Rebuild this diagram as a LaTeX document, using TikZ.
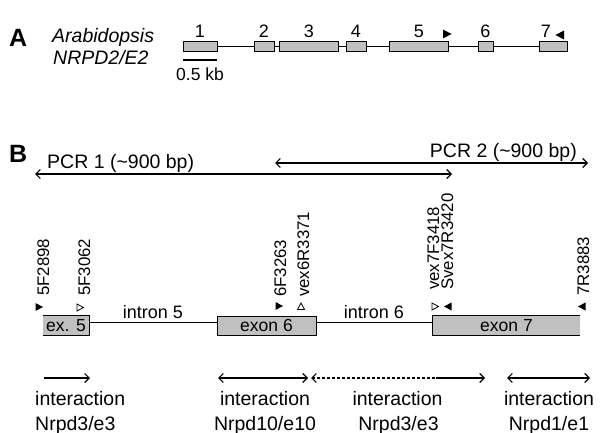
\documentclass[tikz,border=0pt]{standalone}
\usepackage{fontspec}
\setmainfont{Liberation Sans}
\usetikzlibrary{arrows.meta,calc}
\definecolor{exgray}{HTML}{C0C0C0}
\begin{document}
\begin{tikzpicture}[x=1pt,y=-1pt,
  exA/.style={draw, fill=exgray, line width=0.9pt, inner sep=0pt, minimum height=10pt},
  exBfill/.style={fill=exgray, inner sep=0pt, minimum height=19pt, font=\fontsize{17.5pt}{20pt}\selectfont},
  exB/.style={exBfill, draw, line width=0.9pt},
  numlab/.style={anchor=base, inner sep=0pt, font=\fontsize{18pt}{20pt}\selectfont},
  biglab/.style={inner sep=0pt, font=\fontsize{19.5pt}{22pt}\selectfont},
  primer/.style={rotate=90, anchor=base west, inner sep=0pt, font=\fontsize{16.8pt}{19pt}\selectfont},
  panel/.style={anchor=base west, inner sep=0pt, font=\fontsize{25pt}{28pt}\selectfont\bfseries},
  gline/.style={line width=0.9pt},
  arr/.style={line width=1.1pt, -{Straight Barb[length=4.5pt,width=9pt]}},
  dbl/.style={line width=1.1pt, {Straight Barb[length=4.5pt,width=9pt]}-{Straight Barb[length=4.5pt,width=9pt]}},
  larr/.style={line width=1.1pt, {Straight Barb[length=4.5pt,width=9pt]}-}
]
\useasboundingbox (0,0) rectangle (600,433);

% ---------- Panel A ----------
\node[panel] (A) at (9,47) {A};
\node[biglab, anchor=base west] (arab) at (52,43) {\itshape Arabidopsis};
\node[biglab, anchor=base west] (nrpd) at (53,65) {\itshape NRPD2/E2};

\node[exA, minimum width=34pt] (a1) at (200,46) {};
\node[exA, minimum width=20pt] (a2) at (264,46) {};
\node[exA, minimum width=59pt] (a3) at (308.5,46) {};
\node[exA, minimum width=20pt] (a4) at (356,46) {};
\node[exA, minimum width=59pt] (a5) at (418.5,46) {};
\node[exA, minimum width=15pt] (a6) at (485.5,46) {};
\node[exA, minimum width=28pt] (a7) at (553,46) {};
\draw[gline] (a1.east) -- (a2.west);
\draw[gline] (a2.east) -- (a3.west);
\draw[gline] (a3.east) -- (a4.west);
\draw[gline] (a4.east) -- (a5.west);
\draw[gline] (a5.east) -- (a6.west);
\draw[gline] (a6.east) -- (a7.west);

\node[numlab] (n1) at (200,38) {1};
\node[numlab] (n2) at (264,38) {2};
\node[numlab] (n3) at (309,38) {3};
\node[numlab] (n4) at (356,38) {4};
\node[numlab] (n5) at (419,38) {5};
\node[numlab] (n6) at (485.5,38) {6};
\node[numlab] (n7) at (546,38) {7};
\fill[shift={(447,34)}] (-4,-4.5) -- (4.5,0) -- (-4,4.5) -- cycle;
\fill[shift={(560,35)}] (4,-4.5) -- (-4.5,0) -- (4,4.5) -- cycle;

\coordinate (sb1) at (183,60);
\coordinate (sb2) at (217,60);
\draw[line width=1.1pt] (sb1) -- (sb2);
\node[anchor=base, inner sep=0pt, font=\fontsize{17.5pt}{20pt}\selectfont] (kb) at (200,81) {0.5 kb};

% ---------- Panel B ----------
\node[panel] (B) at (9,163) {B};
\node[biglab, anchor=base west] (pcr1) at (47,168) {PCR 1 (\textasciitilde 900 bp)};
\node[biglab, anchor=base east] (pcr2) at (577,158) {PCR 2 (\textasciitilde 900 bp)};
\coordinate (p1a) at (35,174);
\coordinate (p1b) at (452,174);
\coordinate (p2a) at (275,163);
\coordinate (p2b) at (588,163);
\draw[dbl] (p1a) -- (p1b);
\draw[dbl] (p2a) -- (p2b);

% gene structure
\coordinate (iy) at (0,322);
\node[exBfill, minimum width=46pt] (x5) at (66,325.5) {ex. 5};
\draw[line width=0.9pt] (x5.north west) -- (x5.north east) -- (x5.south east) -- (x5.south west);
\node[exB, minimum width=99pt] (x6) at (266.5,325.5) {exon 6};
\node[exBfill, minimum width=147pt] (x7) at (506.5,325.5) {exon 7};
\draw[line width=0.9pt] (x7.north east) -- (x7.north west) -- (x7.south west) -- (x7.south east);
\draw[gline] (x5.east |- iy) -- (x6.west |- iy);
\draw[gline] (x6.east |- iy) -- (x7.west |- iy);
\node[anchor=base, inner sep=0pt, font=\fontsize{18pt}{20pt}\selectfont] (in5) at (153,318) {intron 5};
\node[anchor=base, inner sep=0pt, font=\fontsize{18pt}{20pt}\selectfont] (in6) at (374,318) {intron 6};

% primers
\node[primer] (pr1) at (49,296) {5F2898};
\node[primer] (pr2) at (90,296) {5F3062};
\node[primer] (pr3) at (286,297) {6F3263};
\node[primer] (pr4) at (309,297) {vex6R3371};
\node[primer] (pr5) at (439,290) {vex7F3418};
\node[primer] (pr6) at (453,290) {Svex7R3420};
\node[primer] (pr7) at (589,296) {7R3883};

\fill[shift={(39,307)}] (-3.5,-4) -- (4,0) -- (-3.5,4) -- cycle;
\draw[line width=0.8pt, shift={(80,307.5)}] (-3,-3.5) -- (3.5,0) -- (-3,3.5) -- cycle;
\fill[shift={(279,306)}] (-3.5,-4) -- (4,0) -- (-3.5,4) -- cycle;
\draw[line width=0.8pt, shift={(301,306.5)}] (0,-3.5) -- (3.5,3) -- (-3.5,3) -- cycle;
\draw[line width=0.8pt, shift={(435,306.5)}] (-3,-3.5) -- (3.5,0) -- (-3,3.5) -- cycle;
\fill[shift={(448,306.5)}] (3.5,-4) -- (-4,0) -- (3.5,4) -- cycle;
\fill[shift={(582,306.5)}] (3.5,-4) -- (-4,0) -- (3.5,4) -- cycle;

% interaction arrows
\coordinate (r1a) at (44,378);
\coordinate (r1b) at (90,378);
\coordinate (r2a) at (218,378);
\coordinate (r2b) at (308,378);
\coordinate (r3a) at (311,378);
\coordinate (r3m) at (436,378);
\coordinate (r3b) at (485,378);
\coordinate (r4a) at (507,378);
\coordinate (r4b) at (590,378);
\draw[arr] (r1a) -- (r1b);
\draw[dbl] (r2a) -- (r2b);
\draw[larr, dash pattern=on 3pt off 2pt] (r3a) -- (r3m);
\draw[arr] (r3m) -- (r3b);
\draw[dbl] (r4a) -- (r4b);

\node[biglab, anchor=base west] (t1a) at (35,405) {interaction};
\node[biglab, anchor=base west] (t1b) at (35,430) {Nrpd3/e3};
\node[biglab, anchor=base] (t2a) at (265,405) {interaction};
\node[biglab, anchor=base] (t2b) at (265,430) {Nrpd10/e10};
\node[biglab, anchor=base] (t3a) at (397.5,405) {interaction};
\node[biglab, anchor=base] (t3b) at (398.5,430) {Nrpd3/e3};
\node[biglab, anchor=base] (t4a) at (549,405) {interaction};
\node[biglab, anchor=base] (t4b) at (549,430) {Nrpd1/e1};
\end{tikzpicture}
\end{document}
